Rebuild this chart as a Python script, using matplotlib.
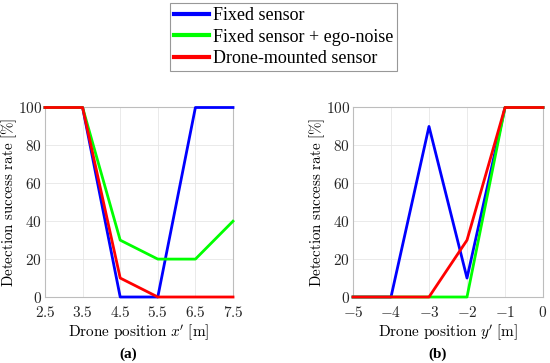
import matplotlib
matplotlib.use("Agg")
import matplotlib.pyplot as plt
from matplotlib.lines import Line2D

x_a = [2.5, 3.5, 4.5, 5.5, 6.5, 7.5]
fixed_a = [100, 100, 0, 0, 100, 100]
ego_a = [100, 100, 30, 20, 20, 40]
drone_a = [100, 100, 10, 0, 0, 0]

x_b = [-5, -4, -3, -2, -1, 0]
fixed_b = [0, 0, 90, 10, 100, 100]
ego_b = [0, 0, 0, 0, 100, 100]
drone_b = [0, 0, 0, 30, 100, 100]

y_ticks = [0, 20, 40, 60, 80, 100]

labels = ["Fixed sensor", "Fixed sensor + ego-noise", "Drone-mounted sensor"]
colors = ["#0000ff", "#00ff00", "#ff0000"]

plt.rcParams['mathtext.fontset'] = 'cm'

fig = plt.figure(figsize=(5.5, 3.63), dpi=100)
ax1 = fig.add_axes([45/550, 66/363, 188/550, 189.5/363])
ax2 = fig.add_axes([353/550, 66/363, 190/550, 189.5/363])

for ax, xs, series, xl, w in [
    (ax1, x_a, [fixed_a, ego_a, drone_a], r"$\mathrm{Drone\ position\ }x\mathrm{'\ [m]}$", 188),
    (ax2, x_b, [fixed_b, ego_b, drone_b], r"$\mathrm{Drone\ position\ }y\mathrm{'\ [m]}$", 190),
]:
    for ys, c in zip(series, colors):
        ax.plot(xs, ys, color=c, lw=2, clip_on=False, zorder=3)
    ax.set_xlim(xs[0], xs[-1])
    ax.set_ylim(0, 100)
    ax.set_xticks(xs)
    ax.set_xticklabels([f"${v:g}$" for v in xs])
    ax.set_yticks(y_ticks)
    ax.set_yticklabels([f"${v:g}$" for v in y_ticks])
    ax.grid(True, color='#e6e6e6', lw=0.6)
    ax.set_axisbelow(True)
    for s in ax.spines.values():
        s.set_color('#bdbdbd')
        s.set_linewidth(0.8)
    ax.tick_params(length=0, labelsize=11, colors='#262626')
    ax.tick_params(axis='x', pad=6)
    ax.tick_params(axis='y', pad=2)
    ax.set_xlabel(xl, fontsize=11, labelpad=1)
    ax.set_ylabel(r"$\mathrm{Detection\ success\ rate\ [\%]}$", fontsize=10.8)
    ax.yaxis.set_label_coords(-26 / w, 0.5)

fig.text(128/550, 1 - 354/363, "(a)", ha='center', va='center',
         fontsize=11, fontweight='bold', family=['Liberation Serif'])
fig.text(438/550, 1 - 354/363, "(b)", ha='center', va='center',
         fontsize=11, fontweight='bold', family=['Liberation Serif'])

handles = [Line2D([0], [0], color=c, lw=3) for c in colors]
leg = fig.legend(handles, labels, loc='upper left',
                 bbox_to_anchor=(170/550, 1 - 3/363),
                 prop={'family': 'Liberation Serif', 'size': 13},
                 frameon=True, fancybox=False, edgecolor='#7f7f7f',
                 handlelength=1.95, handletextpad=0.2, borderpad=0.22,
                 labelspacing=0.26, borderaxespad=0)
leg.get_frame().set_linewidth(0.8)

fig.savefig("out.png", dpi=100)
